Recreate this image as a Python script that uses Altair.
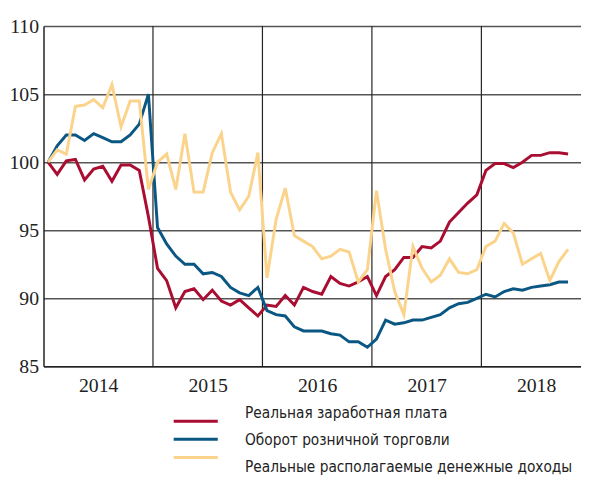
import altair as alt
import pandas as pd

# ---- data ----
years = [2014, 2015, 2016, 2017, 2018]
year_breaks = [12, 24, 36, 48]          # month index where a new year starts
y_ticks = [85, 90, 95, 100, 105, 110]

series_names = [
    "Реальная заработная плата",
    "Оборот розничной торговли",
    "Реальные располагаемые денежные доходы",
]
series_colors = ["#AA0D32", "#0B5783", "#FBD38B"]

wages = [
    100.0, 99.1, 100.1, 100.2, 98.7, 99.5, 99.7, 98.6, 99.8, 99.8, 99.4, 96.0,
    92.2, 91.3, 89.3, 90.5, 90.7, 89.9, 90.6, 89.8, 89.5, 89.9, 89.3, 88.7,
    89.5, 89.4, 90.2, 89.5, 90.8, 90.5, 90.3, 91.6, 91.1, 90.9, 91.2, 91.6,
    90.2, 91.6, 92.1, 93.0, 93.0, 93.8, 93.7, 94.2, 95.6, 96.3, 97.0, 97.6,
    99.4, 99.9, 99.9, 99.6, 100.0, 100.5, 100.5, 100.7, 100.7, 100.6,
]
retail = [
    100.0, 101.2, 102.0, 102.0, 101.6, 102.1, 101.8, 101.5, 101.5, 102.0, 102.8, 105.0,
    95.2, 94.0, 93.1, 92.5, 92.5, 91.8, 91.9, 91.6, 90.8, 90.4, 90.2, 90.8,
    89.1, 88.8, 88.7, 87.9, 87.6, 87.6, 87.6, 87.4, 87.3, 86.8, 86.8, 86.4,
    87.0, 88.4, 88.1, 88.2, 88.4, 88.4, 88.6, 88.8, 89.3, 89.6, 89.7, 90.0,
    90.3, 90.1, 90.5, 90.7, 90.6, 90.8, 90.9, 91.0, 91.2, 91.2,
]
income = [
    100.0, 100.9, 100.6, 104.1, 104.2, 104.6, 104.0, 105.7, 102.6, 104.5, 104.5, 98.0,
    100.0, 100.6, 98.0, 102.1, 97.8, 97.8, 100.7, 102.1, 97.8, 96.5, 97.5, 100.7,
    91.5, 95.8, 98.1, 94.6, 94.2, 93.8, 92.9, 93.1, 93.6, 93.4, 91.2, 92.1,
    97.9, 93.6, 90.5, 88.8, 93.8, 92.2, 91.2, 91.7, 92.9, 91.9, 91.8, 92.1,
    93.8, 94.2, 95.5, 94.8, 92.5, 92.9, 93.3, 91.3, 92.7, 93.6,
]

rows = []
for k, (name, vals) in enumerate(zip(series_names, [wages, retail, income])):
    for i, v in enumerate(vals):
        rows.append({"series": name, "m": i + 0.5, "value": v, "ord": 2 - k})
df = pd.DataFrame(rows)
breaks_df = pd.DataFrame({"m": year_breaks})
legend_df = pd.DataFrame({"series": series_names})

year_label_pos = [12 * j + 6 for j in range(len(years))]
label_expr = "{" + ",".join(f"'{p}':'{y}'" for p, y in zip(year_label_pos, years)) + "}[datum.value]"

x_scale = alt.Scale(domain=[0, 58.92], nice=False, zero=False)
y_scale = alt.Scale(domain=[85, 110], nice=False, zero=False)
color_scale = alt.Scale(domain=series_names, range=series_colors)

AXIS_FONT = "Liberation Serif"
LEGEND_FONT = "DejaVu Sans Condensed, Liberation Sans, sans-serif"

lines = alt.Chart(df).mark_line(strokeWidth=3, strokeJoin="miter").encode(
    x=alt.X("m:Q", scale=x_scale,
            axis=alt.Axis(values=year_label_pos, labelExpr=label_expr, title=None,
                          grid=False, ticks=False, domain=True, domainColor="#222",
                          domainWidth=1.5, labelFont=AXIS_FONT, labelFontSize=20,
                          labelColor="#222", labelPadding=10)),
    y=alt.Y("value:Q", scale=y_scale,
            axis=alt.Axis(values=y_ticks, title=None, grid=True, gridColor="#555",
                          gridWidth=1.5, ticks=False, domain=True, domainColor="#222",
                          domainWidth=1.5, labelFont=AXIS_FONT, labelFontSize=20,
                          labelColor="#222", labelPadding=5)),
    color=alt.Color("series:N", scale=color_scale, legend=None),
    order=alt.Order("ord:Q"),
)

rules = alt.Chart(breaks_df).mark_rule(color="#222", strokeWidth=1.2).encode(
    x=alt.X("m:Q", scale=x_scale),
    y=alt.YDatum(85, scale=y_scale, axis=None),
    y2=alt.Y2Datum(110),
)

# legend block below the plot: one row per series
leg_y = alt.Y("series:N", axis=None,
              scale=alt.Scale(domain=series_names, range=[391.5, 446.5], padding=0))

legend_lines = alt.Chart(legend_df).mark_rule(strokeWidth=3).encode(
    x=alt.value(132), x2=alt.value(176.7), y=leg_y,
    color=alt.Color("series:N", scale=color_scale, legend=None),
)
legend_text = alt.Chart(legend_df).mark_text(
    align="left", baseline="middle", font=LEGEND_FONT, fontSize=15.5, color="#222", dy=1
).encode(x=alt.value(204.3), y=leg_y, text="series:N")

chart = alt.layer(rules, lines, legend_lines, legend_text).resolve_scale(
    y="independent"
).properties(
    width=545, height=345,
    autosize=alt.AutoSizeParams(type="none"),
    padding={"left": 36, "top": 15, "right": 0, "bottom": 120},
).configure_view(stroke=None)

chart.save("out.html", embed_options={"renderer": "svg", "actions": False})
